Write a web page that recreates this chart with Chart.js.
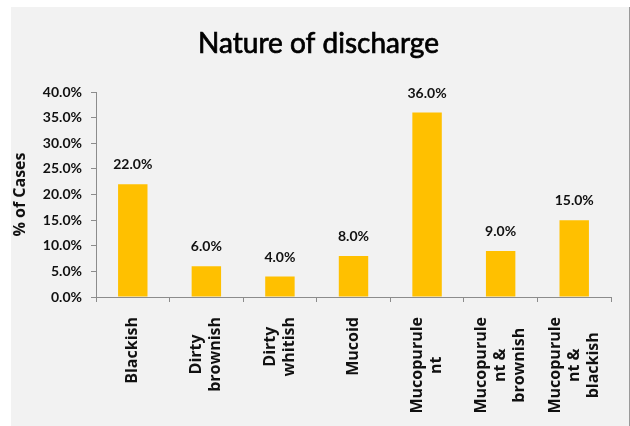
<!DOCTYPE html>
<html>
<head>
<meta charset="utf-8">
<script src="https://cdn.jsdelivr.net/npm/chart.js@4.4.1/dist/chart.umd.min.js"></script>
<style>
    html, body { margin: 0; padding: 0; background: #ffffff; }
    canvas { display: block; }
</style>
</head>
<body>
<canvas id="dischargeChart" width="630" height="426"></canvas>
<script>
// Chart data
const chartTitle = 'Nature of discharge';
const categories = [
    ['Blackish'],
    ['Dirty', 'brownish'],
    ['Dirty', 'whitish'],
    ['Mucoid'],
    ['Mucopurule', 'nt'],
    ['Mucopurule', 'nt &', 'brownish'],
    ['Mucopurule', 'nt &', 'blackish']
];
const percentCases = [22.0, 6.0, 4.0, 8.0, 36.0, 9.0, 15.0];
const yMin = 0;
const yMax = 40;
const yStep = 5;

const axisGray = '#8c8c8c';
const fontFamily = 'Lato, "Open Sans", sans-serif';
const labelFamily = '"Open Sans", Lato, sans-serif';

// Excel style grey panel behind everything, plus the title
const panelBackground = {
    id: 'panelBackground',
    beforeDraw(chart) {
        const ctx = chart.ctx;
        ctx.save();
        ctx.fillStyle = '#ffffff';
        ctx.fillRect(0, 0, chart.width, chart.height);
        ctx.fillStyle = '#f2f2f2';
        ctx.fillRect(11, 7, 618, chart.height - 7);
        ctx.fillStyle = '#9a9a9a';
        ctx.fillRect(629, 7, 1, chart.height - 7);

        // title is a bit heavier than plain Lato, so add a thin stroke
        ctx.fillStyle = '#000000';
        ctx.strokeStyle = '#000000';
        ctx.lineWidth = 0.7;
        ctx.font = '28px ' + fontFamily;
        ctx.textAlign = 'center';
        ctx.textBaseline = 'alphabetic';
        ctx.fillText(chartTitle, 318.5, 53);
        ctx.strokeText(chartTitle, 318.5, 53);
        ctx.restore();
    }
};

// Value labels above the bars
const barValueLabels = {
    id: 'barValueLabels',
    afterDatasetsDraw(chart) {
        const ctx = chart.ctx;
        const meta = chart.getDatasetMeta(0);
        ctx.save();
        ctx.font = 'bold 14px ' + fontFamily;
        ctx.fillStyle = '#111111';
        ctx.textAlign = 'center';
        ctx.textBaseline = 'alphabetic';
        meta.data.forEach((bar, i) => {
            ctx.fillText(percentCases[i].toFixed(1) + '%', bar.x, bar.y - 15);
        });
        ctx.restore();
    }
};

// Rotated category labels, lines centred like Excel wraps them
const categoryLabels = {
    id: 'categoryLabels',
    afterDraw(chart) {
        const ctx = chart.ctx;
        const xScale = chart.scales.x;
        const lineGap = 19;
        const top = xScale.top + 20;
        ctx.save();
        ctx.font = 'bold 16px ' + labelFamily;
        ctx.fillStyle = '#111111';
        ctx.textAlign = 'center';
        ctx.textBaseline = 'middle';
        categories.forEach((lines, i) => {
            const x = xScale.getPixelForValue(i);
            const longest = Math.max(...lines.map(l => ctx.measureText(l).width));
            const yc = top + longest / 2;
            lines.forEach((line, j) => {
                ctx.save();
                ctx.translate(x + (j - (lines.length - 1) / 2) * lineGap, yc);
                ctx.rotate(-Math.PI / 2);
                ctx.fillText(line, 0, 0);
                ctx.restore();
            });
        });
        ctx.restore();
    }
};

const ctx = document.getElementById('dischargeChart').getContext('2d');
new Chart(ctx, {
    type: 'bar',
    data: {
        labels: categories,
        datasets: [{
            label: '% of Cases',
            data: percentCases,
            backgroundColor: '#ffc000',
            borderWidth: 0,
            barPercentage: 0.4,
            categoryPercentage: 1.0
        }]
    },
    options: {
        responsive: false,
        animation: false,
        layout: {
            padding: { left: 0, right: 19, top: 92, bottom: 0 }
        },
        plugins: {
            legend: { display: false },
            tooltip: { enabled: false },
            title: { display: false }
        },
        scales: {
            x: {
                grid: {
                    display: true,
                    offset: true,
                    drawOnChartArea: false,
                    tickLength: 5,
                    color: axisGray
                },
                border: { color: axisGray },
                ticks: { display: false },
                afterFit(scale) {
                    scale.height = 129;
                }
            },
            y: {
                min: yMin,
                max: yMax,
                grid: {
                    drawOnChartArea: false,
                    tickLength: 5,
                    color: axisGray
                },
                border: { color: axisGray },
                ticks: {
                    stepSize: yStep,
                    padding: 9,
                    color: '#111111',
                    font: { family: fontFamily, size: 14, weight: 'bold' },
                    callback: (value) => value.toFixed(1) + '%'
                },
                title: {
                    display: true,
                    text: '% of Cases',
                    color: '#111111',
                    font: { family: labelFamily, size: 16, weight: 'bold' },
                    padding: { top: 11, bottom: 0 }
                },
                afterFit(scale) {
                    scale.width = 96;
                }
            }
        }
    },
    plugins: [panelBackground, barValueLabels, categoryLabels]
});
</script>
</body>
</html>
